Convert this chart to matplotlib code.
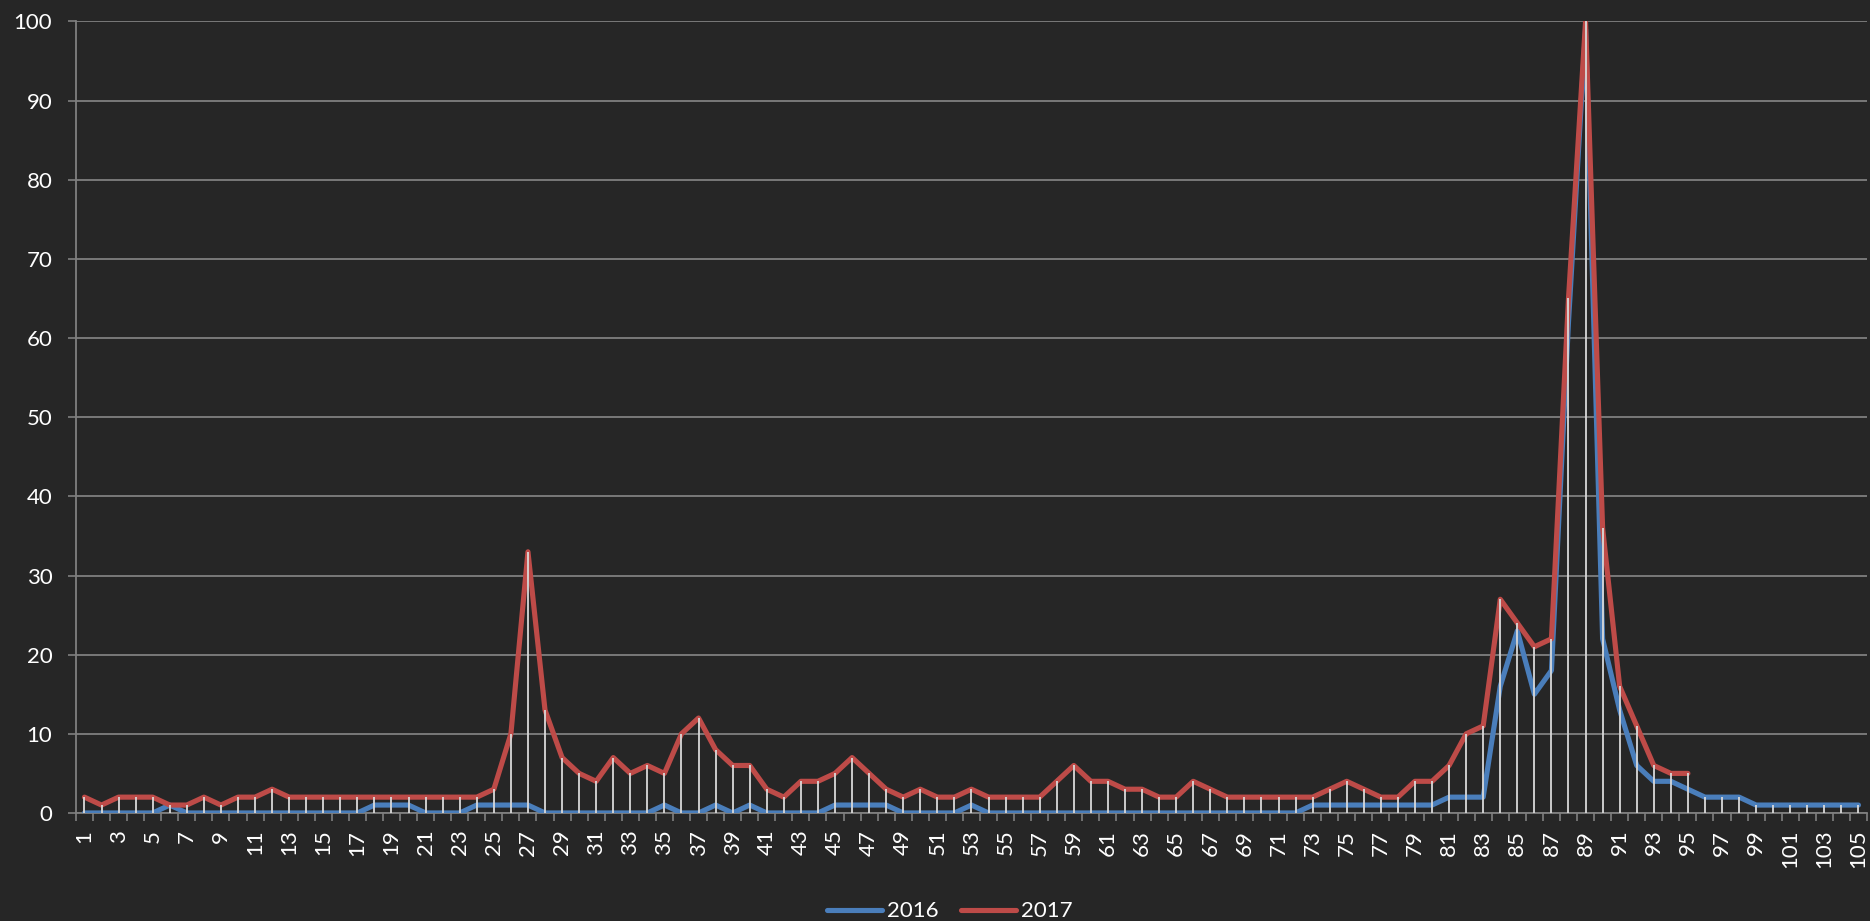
import numpy as np
import matplotlib
matplotlib.use("Agg")
import matplotlib.pyplot as plt
from matplotlib.ticker import MultipleLocator

plt.rcParams['font.family'] = ['Lato', 'DejaVu Sans']

# categories 1..105
cats = list(range(1, 106))

# 2016 series
y2016 = [0, 0, 0, 0, 0, 1, 0, 0, 0, 0,
         0, 0, 0, 0, 0, 0, 0, 1, 1, 1,
         0, 0, 0, 1, 1, 1, 1, 0, 0, 0,
         0, 0, 0, 0, 1, 0, 0, 1, 0, 1,
         0, 0, 0, 0, 1, 1, 1, 1, 0, 0,
         0, 0, 1, 0, 0, 0, 0, 0, 0, 0,
         0, 0, 0, 0, 0, 0, 0, 0, 0, 0,
         0, 0, 1, 1, 1, 1, 1, 1, 1, 1,
         2, 2, 2, 16, 23, 15, 18, 62, 99, 22,
         13, 6, 4, 4, 3, 2, 2, 2, 1, 1,
         1, 1, 1, 1, 1]

# 2017 series (stops at 95)
y2017 = [2, 1, 2, 2, 2, 1, 1, 2, 1, 2,
         2, 3, 2, 2, 2, 2, 2, 2, 2, 2,
         2, 2, 2, 2, 3, 10, 33, 13, 7, 5,
         4, 7, 5, 6, 5, 10, 12, 8, 6, 6,
         3, 2, 4, 4, 5, 7, 5, 3, 2, 3,
         2, 2, 3, 2, 2, 2, 2, 4, 6, 4,
         4, 3, 3, 2, 2, 4, 3, 2, 2, 2,
         2, 2, 2, 3, 4, 3, 2, 2, 4, 4,
         6, 10, 11, 27, 24, 21, 22, 65, 100, 36,
         16, 11, 6, 5, 5]

x = np.array(cats)
a = np.array(y2016, dtype=float)
b = np.full(len(cats), np.nan)
b[:len(y2017)] = y2017

bg = '#262626'
grid_c = '#7f7f7f'

fig = plt.figure(figsize=(18.7, 9.21), dpi=100, facecolor=bg)
ax = fig.add_axes([0.0406, 0.1173, 0.9578, 0.8594])
ax.set_facecolor(bg)

ax.plot(x, a, color='#4a7ebb', lw=3.7, solid_capstyle='round', solid_joinstyle='round', zorder=3, label='2016')
ax.plot(x, b, color='#be4b48', lw=3.7, solid_capstyle='round', solid_joinstyle='round', zorder=4, label='2017')

# drop lines
top = np.fmax(a, b)
ax.vlines(x, 0, top, color='#d9d9d9', lw=1.3, zorder=5)

ax.set_xlim(0.5, 105.5)
ax.set_ylim(0, 100)
ax.set_yticks(np.arange(0, 101, 10))
ax.yaxis.grid(True, color=grid_c, lw=1.3)
ax.set_axisbelow(True)

ax.set_xticks(x[::2])
ax.set_xticklabels([str(c) for c in cats[::2]], rotation=90)
ax.xaxis.set_minor_locator(MultipleLocator(1, offset=0.5))
ax.tick_params(axis='x', which='major', length=0, pad=12, labelsize=16, labelcolor='white')
ax.tick_params(axis='x', which='minor', length=6, width=1.2, color=grid_c, direction='out')
ax.tick_params(axis='y', length=6, width=1.2, color=grid_c, labelsize=16, labelcolor='white', pad=11)

for s in ['top', 'right']:
    ax.spines[s].set_visible(False)
for s in ['left', 'bottom']:
    ax.spines[s].set_color(grid_c)
    ax.spines[s].set_linewidth(1.3)

leg = fig.legend(loc='center', bbox_to_anchor=(0.5078, 0.0105), ncol=2, frameon=False,
                 fontsize=16, handlelength=2.5, columnspacing=1.0, handletextpad=0.2)
for t in leg.get_texts():
    t.set_color('white')

fig.savefig('out.png', dpi=100, facecolor=bg)
